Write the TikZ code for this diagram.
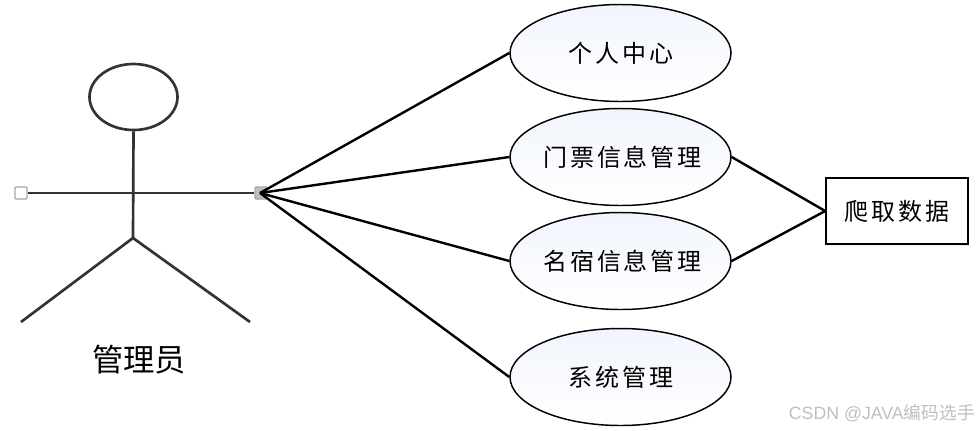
\documentclass[tikz,border=0pt]{standalone}
\usepackage{fontspec}
\usetikzlibrary{shapes.geometric,shadows}
\newfontfamily\cjk[LetterSpace=12]{Noto Sans CJK SC}
\newfontfamily\cjktight{Noto Sans CJK SC}
\setmainfont{Liberation Sans}
\definecolor{pale}{RGB}{241,245,252}
\tikzset{
  usecase/.style={ellipse,draw=black,line width=1.1pt,inner xsep=-30pt,inner ysep=0pt,minimum width=165.75pt,minimum height=72.75pt,
    left color=pale,right color=white,shading angle=0,font=\cjk\fontsize{18}{20}\selectfont},
  link/.style={draw=black,line width=1.8pt},
  actorline/.style={draw=black!80,line width=2pt},
  handle/.style={rectangle,rounded corners=.8pt,draw=black!35,line width=.9pt,minimum size=9pt,inner sep=0pt},
}
\begin{document}
\begin{tikzpicture}[x=0.75pt,y=-0.75pt]
\useasboundingbox (0,0) rectangle (980,430);
% actor
\node[ellipse,actorline,minimum width=66pt,minimum height=49.5pt,inner sep=0pt] (head) at (133.5,97) {};
\coordinate (hip) at (133,238);
\coordinate (footl) at (21,322);
\coordinate (footr) at (250,322);
\node[handle,fill=white] (hl) at (21,193) {};
\node[handle,fill=black!25] (hr) at (261,193) {};
\draw[actorline] (head.south) -- (hip);
\draw[actorline] (hl.east) -- (hr.west);
\draw[actorline] (footl) -- (hip) -- (footr);
\node[font=\cjktight\fontsize{23.5}{26}\selectfont] (name) at (139,360) {管理员};
% use cases
\node[usecase] (e1) at (620.5,53) {\hspace{1pt}个人中心};
\node[usecase] (e2) at (620.5,157) {\hspace{3pt}门票信息管理};
\node[usecase] (e3) at (620.5,261) {\hspace{3pt}名宿信息管理};
\node[usecase] (e4) at (620.5,377) {\hspace{1pt}系统管理};
\node[rectangle,draw=black,line width=1.2pt,fill=white,minimum width=106.5pt,minimum height=49.5pt,inner sep=0pt,
  drop shadow={shadow xshift=1pt,shadow yshift=-1.5pt,fill=blue!25,opacity=.3},
  font=\cjk\fontsize{18}{20}\selectfont] (box) at (897,211) {爬取数据};
% connectors
\coordinate (hub) at (260,193);
\draw[link] (hub) -- (e1.west);
\draw[link] (hub) -- (e2.west);
\draw[link] (hub) -- (e3.west);
\draw[link] (hub) -- (e4.west);
\draw[link] (e2.east) -- (box.west);
\draw[link] (e3.east) -- (box.west);
% watermark
\node[anchor=east,inner sep=0pt,text=black!25,font=\fontsize{13.3}{15}\selectfont] (mark) at (975,413) {CSDN @JAVA{\cjktight 编码选手}};
\end{tikzpicture}
\end{document}
